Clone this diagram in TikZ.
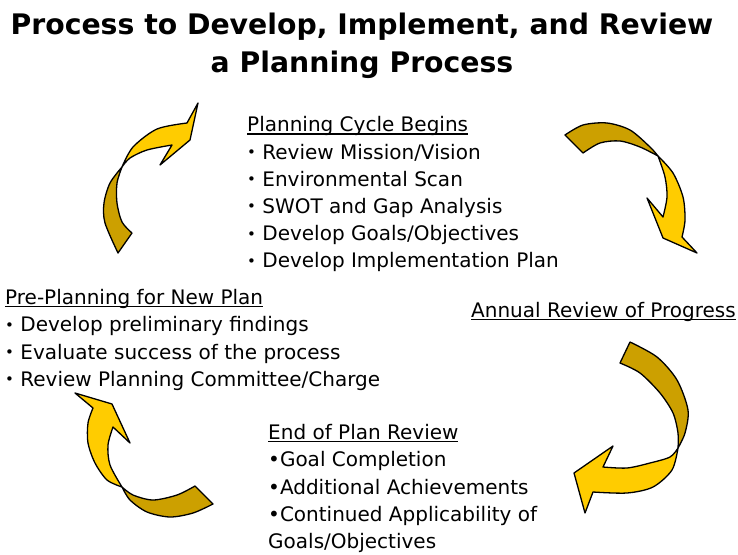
\documentclass[tikz,border=0pt]{standalone}
\usepackage{fontspec}
\setmainfont{DejaVu Sans}
\usetikzlibrary{matrix,positioning}
\definecolor{arrlight}{RGB}{255,204,0}
\definecolor{arrdark}{RGB}{204,160,0}
\newcommand{\uln}[1]{\setbox0\hbox{#1}\rlap{\rule[-2.6pt]{\wd0}{1.2pt}}\box0}
\newcommand{\sbul}{\raisebox{0.15ex}{\scalebox{0.75}{•}}}

\begin{document}
\begin{tikzpicture}[x=1pt,y=-1pt,
  lines/.style={matrix of nodes,inner sep=0pt,row sep=6.7pt,
    nodes={anchor=base west,inner sep=0pt,text height=15.5pt,text depth=5pt,
      font=\fontsize{20}{24}\selectfont}},
  headline/.style={anchor=base,inner sep=0pt,font=\fontsize{28.3}{32}\selectfont\bfseries},
  lightarr/.style={fill=arrlight,draw=black,line width=1.3pt,line join=round},
  darkarr/.style={fill=arrdark,draw=black,line width=1.3pt,line join=round}]

 \useasboundingbox (0,0) rectangle (738,554);

 % title
 \node[headline] (title1) at (362,34) {Process to Develop, Implement, and Review};
 \node[headline] (title2) at (362,72) {a Planning Process};

 % the four text blocks
 \matrix[lines,anchor=north west] (begins) at (247,116.2) {
  \uln{Planning Cycle Begins}\\
  \sbul{} Review Mission/Vision\\
  \sbul{} Environmental Scan\\
  \sbul{} SWOT and Gap Analysis\\
  \sbul{} Develop Goals/Objectives\\
  \sbul{} Develop Implementation Plan\\
 };

 \matrix[lines,anchor=north west] (preplan) at (5,289) {
  \uln{Pre-Planning for New Plan}\\
  \sbul{} Develop preliminary findings\\
  \sbul{} Evaluate success of the process\\
  \sbul{} Review Planning Committee/Charge\\
 };

 \matrix[lines,anchor=north west] (annual) at (471,301.5) {
  \uln{Annual Review of Progress}\\
 };

 \matrix[lines,anchor=north west] (endplan) at (268,424) {
  \uln{End of Plan Review}\\
  •Goal Completion\\
  •Additional Achievements\\
  •Continued Applicability of\\
  Goals/Objectives\\
 };

 % arrow top left
 \filldraw[darkarr] plot[smooth] coordinates {(122,167) (110,183) (104,203) (105,223) (118,253)}
  -- plot[smooth] coordinates {(132,233) (122,222) (117,203) (117,183) (122,167)} -- cycle;
 \filldraw[lightarr] plot[smooth] coordinates {(122,167) (133,147) (157,129) (187,123)}
  -- (198,103) -- (190,140) -- (160,165)
  -- plot[smooth] coordinates {(172,145) (147,150) (130,158) (122,167)} -- cycle;

 % arrow top right
 \filldraw[darkarr] plot[smooth] coordinates {(565,135) (583,125) (607,123) (630,130) (650,147) (658,156)}
  -- plot[smooth] coordinates {(658,156) (640,147) (620,141) (600,143) (583,153)} -- cycle;
 \filldraw[lightarr] plot[smooth] coordinates {(658,156) (673,173) (683,197) (685,220) (682,237)}
  -- (697,253) -- (663,238) -- (647,198)
  -- plot[smooth] coordinates {(663,217) (667,197) (665,177) (658,156)} -- cycle;

 % arrow bottom right
 \filldraw[darkarr] plot[smooth] coordinates {(630,342) (657,357) (677,380) (688,410) (685,433) (678,448)}
  -- plot[smooth] coordinates {(678,448) (678,433) (673,413) (660,393) (640,373) (620,363)} -- cycle;
 \filldraw[lightarr] plot[smooth] coordinates {(678,448) (672,470) (653,487) (627,493) (593,492)}
  -- (585,513) -- (574,473) -- (613,446)
  -- plot[smooth] coordinates {(603,467) (627,468) (650,463) (670,457) (678,448)} -- cycle;

 % arrow bottom left
 \filldraw[darkarr] plot[smooth] coordinates {(195,486) (177,495) (153,500) (133,495) (122,487)}
  -- plot[smooth] coordinates {(122,487) (130,500) (147,512) (170,517) (193,513) (213,504)} -- cycle;
 \filldraw[lightarr] plot[smooth] coordinates {(122,487) (107,480) (95,463) (88,443) (88,423) (93,408)}
  -- (75,393) -- (112,404) -- (130,443)
  -- plot[smooth] coordinates {(113,427) (108,445) (110,465) (122,487)} -- cycle;

\end{tikzpicture}
\end{document}
